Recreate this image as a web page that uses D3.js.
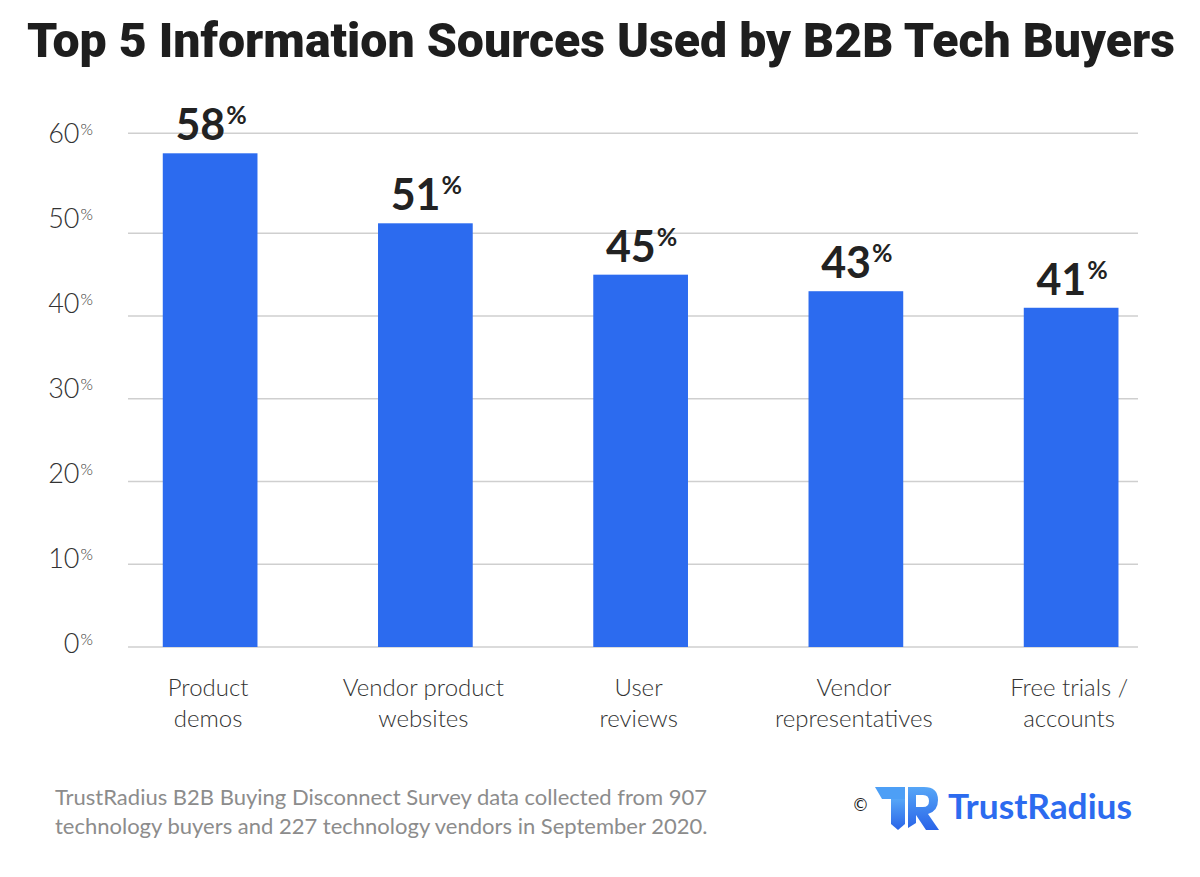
<!DOCTYPE html>
<html>
<head>
<meta charset="utf-8">
<script src="https://cdn.jsdelivr.net/npm/d3@7"></script>
<style>
  html, body { margin: 0; padding: 0; background: #fff; }
  svg { display: block; }
</style>
</head>
<body>
<svg id="chart" width="1200" height="877"></svg>
<script>
// ---- data ----
const title = "Top 5 Information Sources Used by B2B Tech Buyers";
const categories = ["Product demos", "Vendor product websites", "User reviews", "Vendor representatives", "Free trials / accounts"];
const categoryLines = [["Product", "demos"], ["Vendor product", "websites"], ["User", "reviews"], ["Vendor", "representatives"], ["Free trials /", "accounts"]];
const values = [58, 51, 45, 43, 41];
const yTicks = [0, 10, 20, 30, 40, 50, 60];
const footnoteLines = ["TrustRadius B2B Buying Disconnect Survey data collected from 907", "technology buyers and 227 technology vendors in September 2020."];
const brandName = "TrustRadius";

// ---- setup ----
const svg = d3.select("#chart");
const blue = "#2c6bef";
const textDark = "#222";
const axisText = "#333";

// scales (the original axis puts 60 higher than a linear step, so use a polylinear scale)
const y = d3.scaleLinear().domain([0, 50, 60]).range([647, 233.3, 133.3]);
const yLabel = d3.scaleLinear().domain([0, 60]).range([653, 143]); // label baselines
const x = d3.scaleBand().domain(categories).range([102.5, 1178.75]).paddingInner(0.56).paddingOuter(0.28);

// title
svg.append("text")
  .attr("x", 27).attr("y", 57)
  .attr("textLength", 1148).attr("lengthAdjust", "spacingAndGlyphs")
  .style("font-family", "Roboto, 'Liberation Sans Narrow', 'Lato', sans-serif")
  .style("font-weight", 900).style("font-size", "49px").style("fill", "#1e1e1e")
  .text(title);

// gridlines
svg.append("g").selectAll("line").data(yTicks).join("line")
  .attr("x1", 128).attr("x2", 1138)
  .attr("y1", d => y(d)).attr("y2", d => y(d))
  .attr("stroke", "#cfcfcf").attr("stroke-width", 1.5);

// y tick labels
const yt = svg.append("g").selectAll("text").data(yTicks).join("text")
  .attr("x", 93).attr("y", d => yLabel(d))
  .attr("text-anchor", "end")
  .style("font-family", "Lato, 'Open Sans', sans-serif")
  .style("font-weight", 300)
  .style("fill", axisText);
yt.append("tspan").style("font-size", "27px").text(d => d);
yt.append("tspan").style("font-size", "16px").attr("dy", -8).attr("dx", 1).text("%");

// bars
svg.append("g").selectAll("rect").data(values).join("rect")
  .attr("x", (d, i) => x(categories[i]))
  .attr("width", x.bandwidth())
  .attr("y", d => y(d))
  .attr("height", d => y(0) - y(d))
  .attr("fill", blue);

// value labels
const vl = svg.append("g").selectAll("text").data(values).join("text")
  .attr("x", (d, i) => x(categories[i]) + x.bandwidth() / 2 + 1)
  .attr("y", d => y(d) - 13)
  .attr("text-anchor", "middle")
  .style("font-family", "Lato, 'Open Sans', sans-serif")
  .style("font-weight", 700)
  .style("fill", textDark);
vl.append("tspan").style("font-size", "43px").text(d => d);
vl.append("tspan").style("font-size", "25px").attr("dy", -16).attr("dx", 1).text("%");

// category labels
const cl = svg.append("g").selectAll("text").data(categoryLines).join("text")
  .attr("text-anchor", "middle")
  .style("font-family", "Lato, 'Open Sans', sans-serif")
  .style("font-weight", 300)
  .style("font-size", "24px")
  .style("fill", axisText);
cl.selectAll("tspan").data((d, i) => d.map(s => ({ s, i }))).join("tspan")
  .attr("x", d => x(categories[d.i]) + x.bandwidth() / 2 - 2)
  .attr("y", (d, j) => 696 + j * 31)
  .text(d => d.s);

// footnote
svg.append("g").selectAll("text").data(footnoteLines).join("text")
  .attr("x", 55).attr("y", (d, i) => 805 + i * 29)
  .style("font-family", "Lato, 'Open Sans', sans-serif")
  .style("font-size", "22px")
  .style("fill", "#8c8c8c")
  .text(d => d);

// logo
const logo = svg.append("g");
logo.append("text").attr("x", 852).attr("y", 811)
  .style("font-family", "'DejaVu Sans', sans-serif").style("font-size", "17px").style("fill", "#222")
  .text("©");
const defs = svg.append("defs");
const grad = defs.append("linearGradient").attr("id", "lg").attr("x1", 0).attr("y1", 0).attr("x2", 0).attr("y2", 1);
grad.append("stop").attr("offset", "0%").attr("stop-color", "#56a6f7");
grad.append("stop").attr("offset", "100%").attr("stop-color", "#2a64e8");
const icon = logo.append("g").attr("transform", "translate(875,787)");
icon.append("path").attr("d", "M0,0 L30,0 L30,12 L7,12 Z").attr("fill", "#4d9ff6");
icon.append("path").attr("d", "M16,12 L30,12 L30,37 L23,43 L16,37 Z").attr("fill", "url(#lg)");
icon.append("path")
  .attr("d", "M33,0 L49,0 Q63,0 63,13 Q63,24 53,27 L64,43 L51,43 L41,28 L41,36 L33,41 Z M41,8 L48,8 Q54,8 54,14 Q54,20 48,20 L41,20 Z")
  .attr("fill-rule", "evenodd").attr("fill", "url(#lg)");
logo.append("text").attr("x", 948).attr("y", 819)
  .attr("textLength", 184).attr("lengthAdjust", "spacingAndGlyphs")
  .style("font-family", "Lato, 'Open Sans', sans-serif").style("font-weight", 700)
  .style("font-size", "34px").style("fill", blue)
  .text(brandName);
</script>
</body>
</html>
